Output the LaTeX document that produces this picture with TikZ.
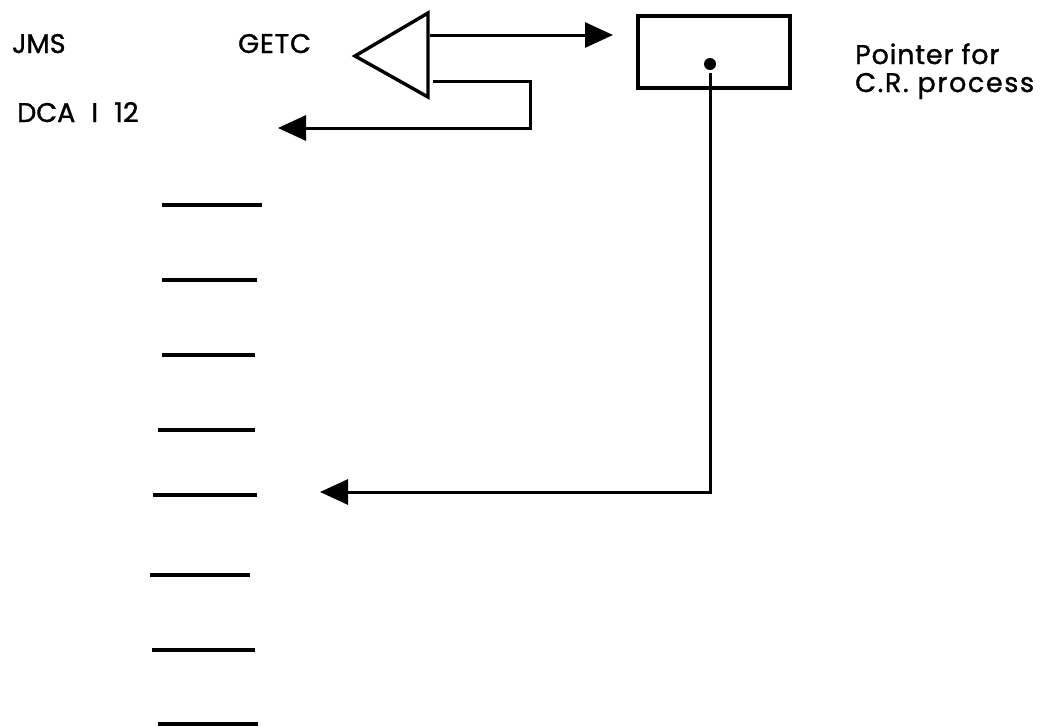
\documentclass[tikz,border=0pt]{standalone}
\usepackage{fontspec}
\setmainfont{Poppins}
\newfontfamily\lblfont{Poppins}[FakeBold=1.2]
\usetikzlibrary{arrows.meta}
\begin{document}
\begin{tikzpicture}[x=1pt,y=-1pt,
  lbl/.style={inner sep=0pt, anchor=base west, font=\lblfont\fontsize{27}{30}\selectfont},
  conn/.style={line width=3pt, -{Triangle[length=28pt,width=25pt]}},
  shapeline/.style={line width=3.4pt},
  tickline/.style={line width=3.8pt}]
\fill[white] (0,0) rectangle (1047,728);
\useasboundingbox (0,0) rectangle (1047,728);
% labels
\node[lbl] (jms) at (12,53) {JMS};
\node[lbl] (getc) at (238,53) {\addfontfeatures{LetterSpace=3}GETC};
\node[lbl] (dca) at (17,122) {\spaceskip=0.6em DCA I 12};
\node[lbl] (ptr1) at (855,64) {\addfontfeatures{LetterSpace=3}Pointer for};
\node[lbl] (ptr2) at (855,92) {\addfontfeatures{LetterSpace=6}C.R. process};
% triangle
\coordinate (tA) at (355,56);
\coordinate (tT) at (428,13);
\coordinate (tB) at (428,97);
\draw[shapeline, line join=miter] (tA) -- (tT) -- (tB) -- cycle;
% pointer box
\node[draw, shapeline, minimum width=152pt, minimum height=72pt, inner sep=0pt] (box) at (714,52) {};
\node[circle, fill, inner sep=0pt, minimum size=12pt] (dot) at (710,64) {};
% connectors
\coordinate (topStart) at (430,35);
\coordinate (topEnd) at (613,35);
\draw[conn] (topStart) -- (topEnd);
\coordinate (retStart) at (433,81);
\coordinate (retEnd) at (278,128);
\draw[conn] (retStart) -- ++(97,0) |- (retEnd);
\coordinate (crEnd) at (320,492);
\draw[conn, shorten <=3pt] (dot.south) |- (crEnd);
% list of short lines
\foreach \xa/\xb/\yy in {162/262/205, 162/257/280, 162/255/355, 158/255/430, 153/257/495, 150/250/575, 152/255/650, 158/258/724}
  \draw[tickline] (\xa,\yy) -- (\xb,\yy);
\end{tikzpicture}
\end{document}
